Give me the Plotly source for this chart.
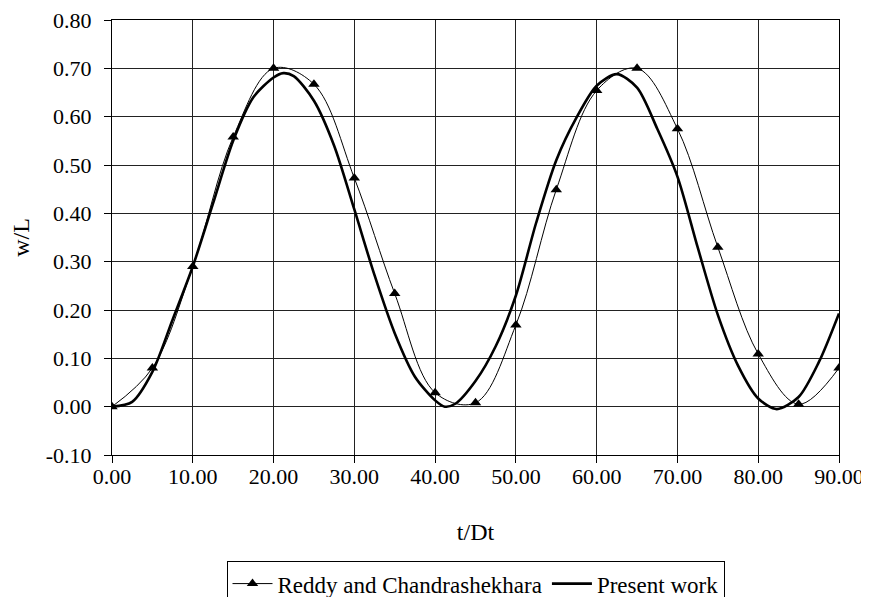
import plotly.graph_objects as go

# Reddy and Chandrashekhara (markers every 5 steps)
t_reddy = [0, 5, 10, 15, 20, 25, 30, 35, 40, 45, 50, 55, 60, 65, 70, 75, 80, 85, 90]
w_reddy = [0.00, 0.08, 0.29, 0.558, 0.70, 0.667, 0.473, 0.234, 0.029, 0.008, 0.169,
           0.449, 0.654, 0.70, 0.575, 0.33, 0.109, 0.005, 0.08]

# Present work (read every 2.5 steps, plus extrema)
t_present = [0, 2.5, 5, 7.5, 10, 12.5, 15, 17.5, 20, 21.2, 22.5, 25, 27.5, 30, 32.5, 35,
             37.5, 40, 41.2, 42.5, 45, 47.5, 50, 52.5, 55, 57.5, 60, 62.5, 65, 67.5, 70,
             72.5, 75, 77.5, 80, 82.3, 85, 87.5, 90]
w_present = [0.00, 0.01, 0.072, 0.18, 0.29, 0.42, 0.55, 0.64, 0.681, 0.69, 0.684,
             0.633, 0.54, 0.408, 0.272, 0.152, 0.062, 0.013, 0.0, 0.006, 0.053, 0.125,
             0.23, 0.38, 0.51, 0.598, 0.664, 0.688, 0.66, 0.575, 0.476, 0.33, 0.19,
             0.085, 0.017, -0.005, 0.02, 0.092, 0.193]

x_ticks = [0, 10, 20, 30, 40, 50, 60, 70, 80, 90]
x_labels = ["0.00", "10.00", "20.00", "30.00", "40.00", "50.00", "60.00", "70.00", "80.00", "90.00"]
y_ticks = [-0.1, 0.0, 0.1, 0.2, 0.3, 0.4, 0.5, 0.6, 0.7, 0.8]
y_labels = ["-0.10", "0.00", "0.10", "0.20", "0.30", "0.40", "0.50", "0.60", "0.70", "0.80"]

FONT = "Liberation Serif, Times New Roman, serif"
FS_TICK = 22
FS_TITLE = 24
FS_LEG = 23

fig = go.Figure()
fig.add_trace(go.Scatter(
    x=t_reddy, y=w_reddy, mode="lines+markers", name="Reddy and Chandrashekhara",
    line=dict(color="black", width=1, shape="spline", smoothing=1),
    marker=dict(symbol="triangle-up", size=10, color="black"),
))
fig.add_trace(go.Scatter(
    x=t_present, y=w_present, mode="lines", name="Present work",
    line=dict(color="black", width=2.6, shape="spline", smoothing=0.8),
))

axis_common = dict(
    showgrid=True, gridcolor="#222222", gridwidth=1,
    showline=True, linecolor="black", linewidth=1, mirror=True,
    ticks="outside", ticklen=7, tickcolor="black", tickwidth=1,
    zeroline=False, automargin=False, ticklabeloverflow="allow",
    tickfont=dict(family=FONT, size=FS_TICK, color="black"),
)

fig.update_layout(
    width=861, height=610,
    margin=dict(l=104, r=30, t=12, b=161),
    paper_bgcolor="white", plot_bgcolor="white",
    font=dict(family=FONT, size=FS_TICK, color="black"),
    xaxis=dict(range=[0, 90], tickvals=x_ticks, ticktext=x_labels,
               ticklabelstandoff=-5,
               title=dict(text="t/Dt", font=dict(family=FONT, size=FS_TITLE), standoff=34),
               **axis_common),
    yaxis=dict(range=[-0.1, 0.8], tickvals=y_ticks, ticktext=y_labels,
               ticklabelstandoff=8,
               title=dict(text="w/L", font=dict(family=FONT, size=FS_TITLE), standoff=22),
               **axis_common),
    showlegend=True,
    legend=dict(orientation="h", x=0.5, xanchor="center", y=-0.244, yanchor="top",
                bordercolor="black", borderwidth=1, bgcolor="white",
                font=dict(family=FONT, size=FS_LEG, color="black"),
                itemwidth=40, tracegroupgap=0),
)

fig.write_html("out.html")
